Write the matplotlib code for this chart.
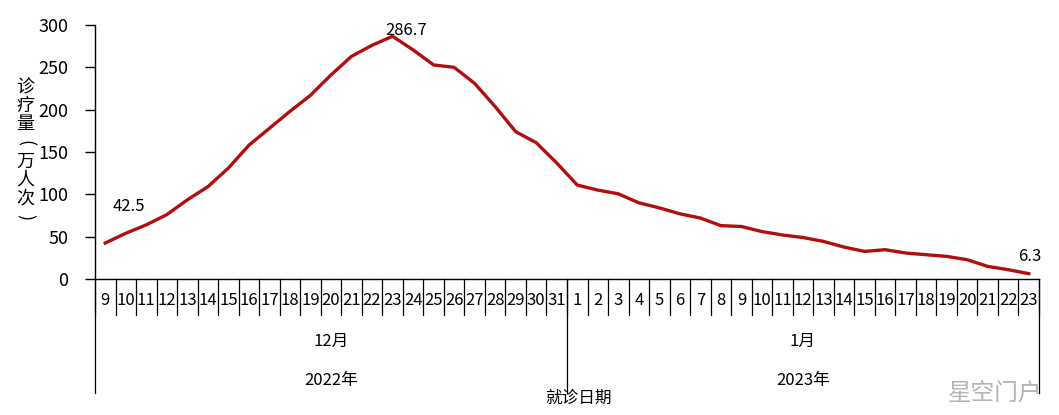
import matplotlib
matplotlib.use("Agg")
import matplotlib.pyplot as plt
import matplotlib.transforms as mtransforms

plt.rcParams["font.family"] = ["Noto Sans CJK SC", "DejaVu Sans"]

# 就诊日期（2022年12月9日 - 2023年1月23日）
dec_days = list(range(9, 32))
jan_days = list(range(1, 24))
months = ["12月", "1月"]
years = ["2022年", "2023年"]

# 诊疗量（万人次）
dec_vals = [42.5, 54, 64, 76, 93.5, 109, 131, 158, 178, 198, 217, 241, 263,
            276, 286.7, 270.6, 252.8, 250, 231, 203.6, 174, 161, 137]
jan_vals = [111, 105, 100.6, 90, 84, 77, 72, 63, 62, 56, 52, 49, 44.4, 37.7,
            32.6, 34.6, 30.7, 28.7, 26.7, 22.8, 14.9, 11, 6.3]

days = dec_days + jan_days
vals = dec_vals + jan_vals
x = list(range(len(days)))

fig = plt.figure(figsize=(10.59, 4.15), dpi=100)
ax = fig.add_axes([95 / 1059, 136 / 415, 944 / 1059, 254 / 415])

ax.plot(x, vals, color="#B00F0F", linewidth=2.4, solid_joinstyle="round")

ax.set_xlim(-0.5, len(days) - 0.5)
ax.set_ylim(0, 300)
ax.set_yticks(range(0, 301, 50))
ax.tick_params(axis="y", labelsize=13, length=7, width=1, direction="out", pad=12)
ax.set_xticks([])
for s in ["top", "right"]:
    ax.spines[s].set_visible(False)
for s in ["left", "bottom"]:
    ax.spines[s].set_color("black")
    ax.spines[s].set_linewidth(1)

# 数据标签
ax.annotate("42.5", (x[0], vals[0]), xytext=(5, 26), textcoords="offset points",
            fontsize=12, ha="left", va="center")
peak = vals.index(max(vals))
ax.annotate(f"{max(vals)}", (x[peak], vals[peak]), xytext=(10, 4),
            textcoords="offset points", fontsize=12, ha="center", va="center")
ax.annotate(f"{vals[-1]}", (x[-1], vals[-1]), xytext=(1, 12),
            textcoords="offset points", fontsize=12, ha="center", va="center")

# 多级分类坐标轴
trans = mtransforms.blended_transform_factory(ax.transData, ax.transAxes)
for i in range(len(days) + 1):
    ax.plot([i - 0.5, i - 0.5], [0, -0.142], color="black", lw=0.9,
            transform=trans, clip_on=False)
for i, d in enumerate(days):
    ax.text(i, -0.083, str(d), transform=trans, ha="center", va="center",
            fontsize=12)

groups = [len(dec_days), len(jan_days)]
start = 0
edges = [0]
for g, m, y in zip(groups, months, years):
    mid = start + (g - 1) / 2
    ax.text(mid, -0.245, m, transform=trans, ha="center", va="center", fontsize=12)
    ax.text(mid, -0.40, y, transform=trans, ha="center", va="center", fontsize=12)
    start += g
    edges.append(start)
for e in edges:
    ax.plot([e - 0.5, e - 0.5], [0, -0.45], color="black", lw=0.9,
            transform=trans, clip_on=False)

ax.text(0.512, -0.47, "就诊日期", transform=ax.transAxes, ha="center", va="center",
        fontsize=12)

# 竖排纵轴标题（括号旋转）
ylabel = "诊疗量(万人次)"
for k, ch in enumerate(ylabel):
    rot = -90 if ch in "()" else 0
    ax.text(-0.074, 0.755 - k * 0.073, ch, transform=ax.transAxes,
            ha="center", va="center", fontsize=13, rotation=rot)

fig.text(995 / 1059, 1 - 393 / 415, "星空门户", ha="center", va="center",
         fontsize=17, color="#b4b4b4")

fig.savefig("out.png", dpi=100)
